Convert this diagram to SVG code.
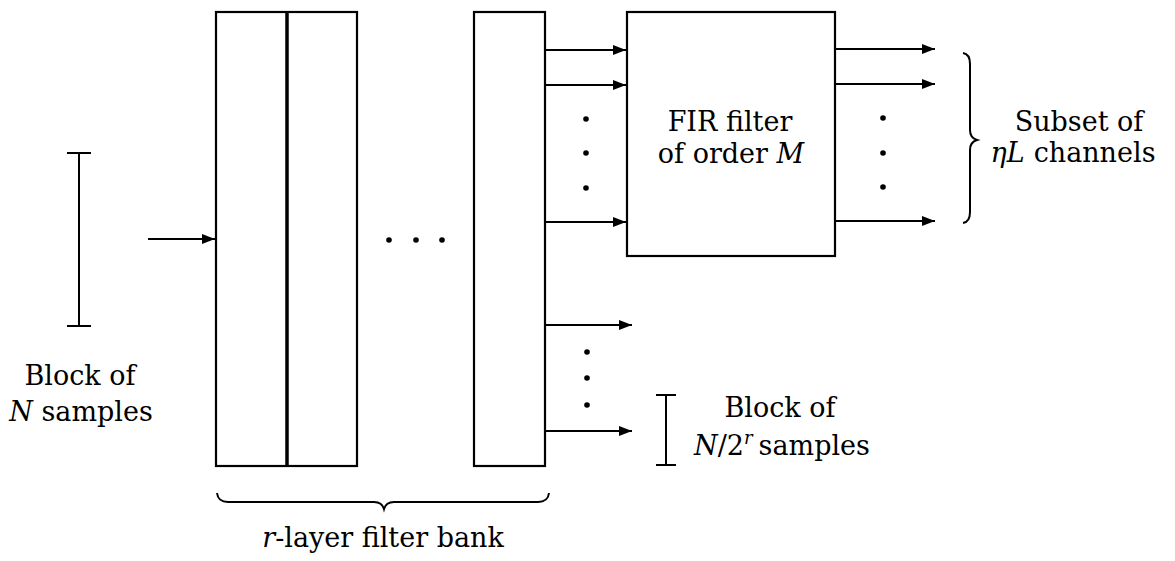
<svg xmlns="http://www.w3.org/2000/svg" width="1175" height="561" viewBox="0 0 1175 561">
<style>
.box{fill:none;stroke:#000;stroke-width:2.2}
.ln{fill:none;stroke:#000;stroke-width:2}
.br{fill:none;stroke:#000;stroke-width:2}
.t{font-family:'DejaVu Serif','Liberation Serif',serif;font-size:27px;fill:#000;text-anchor:middle}
.i{font-style:italic}
.dot{fill:#000}
</style>
<defs>
<marker id="ah" viewBox="0 0 13 10" refX="13" refY="5" markerWidth="13" markerHeight="10" markerUnits="userSpaceOnUse" orient="auto">
<path d="M0,0 L13,5 L0,10 z" fill="#000"/>
</marker>
</defs>
<rect width="1175" height="561" fill="#fff"/>

<g id="input-block">
<line class="ln" x1="79" y1="153" x2="79" y2="326"/>
<line class="ln" x1="67" y1="153" x2="91" y2="153"/>
<line class="ln" x1="67" y1="326" x2="91" y2="326"/>
<text class="t" x="80" y="385">Block of</text>
<text class="t" x="81" y="421"><tspan class="i">N</tspan> samples</text>
</g>

<g id="filter-bank">
<rect class="box" x="216" y="12" width="141" height="454"/>
<line x1="287" y1="12" x2="287" y2="466" stroke="#000" stroke-width="3.5"/>
<rect class="box" x="474" y="12" width="71" height="454"/>
<circle class="dot" cx="389" cy="240" r="2.8"/>
<circle class="dot" cx="416" cy="240" r="2.8"/>
<circle class="dot" cx="442" cy="240" r="2.8"/>
<path class="br" d="M217,493 Q218,502 228,502 L374,502 Q382,502 384,509 Q386,502 394,502 L538,502 Q548,502 549,493"/>
<text class="t" x="383" y="547"><tspan class="i">r</tspan>-layer filter bank</text>
</g>

<g id="fir-filter">
<rect class="box" x="627" y="12" width="208" height="244"/>
<text class="t" x="730" y="131">FIR filter</text>
<text class="t" x="731" y="163">of order <tspan class="i">M</tspan></text>
</g>

<g id="subset-label">
<path class="br" d="M963,53 Q970,54 970,64 L970,130 Q970,138 977,140 Q970,142 970,150 L970,212 Q970,222 963,223"/>
<text class="t" x="1079" y="131">Subset of</text>
<text class="t" x="1073" y="162"><tspan class="i">ηL</tspan><tspan dx="9">channels</tspan></text>
</g>

<g id="output-block">
<line class="ln" x1="666" y1="395" x2="666" y2="465"/>
<line class="ln" x1="656" y1="395" x2="676" y2="395"/>
<line class="ln" x1="656" y1="465" x2="676" y2="465"/>
<text class="t" x="780" y="417">Block of</text>
<text class="t" x="782" y="455"><tspan class="i">N</tspan>/2<tspan class="i" font-size="18" dy="-11">r</tspan><tspan dy="11" dx="6">samples</tspan></text>
</g>

<g id="connectors">
<line class="ln" x1="148" y1="239" x2="215" y2="239" marker-end="url(#ah)"/>
<line class="ln" x1="545" y1="50" x2="626" y2="50" marker-end="url(#ah)"/>
<line class="ln" x1="545" y1="85" x2="626" y2="85" marker-end="url(#ah)"/>
<line class="ln" x1="545" y1="222" x2="626" y2="222" marker-end="url(#ah)"/>
<circle class="dot" cx="586" cy="119" r="2.8"/>
<circle class="dot" cx="586" cy="153" r="2.8"/>
<circle class="dot" cx="586" cy="188" r="2.8"/>
<line class="ln" x1="545" y1="325" x2="632" y2="325" marker-end="url(#ah)"/>
<line class="ln" x1="545" y1="431" x2="632" y2="431" marker-end="url(#ah)"/>
<circle class="dot" cx="587" cy="352" r="2.8"/>
<circle class="dot" cx="587" cy="378" r="2.8"/>
<circle class="dot" cx="587" cy="405" r="2.8"/>
<line class="ln" x1="835" y1="49" x2="935" y2="49" marker-end="url(#ah)"/>
<line class="ln" x1="835" y1="84" x2="935" y2="84" marker-end="url(#ah)"/>
<line class="ln" x1="835" y1="221" x2="935" y2="221" marker-end="url(#ah)"/>
<circle class="dot" cx="883" cy="118" r="2.8"/>
<circle class="dot" cx="883" cy="153" r="2.8"/>
<circle class="dot" cx="883" cy="187" r="2.8"/>
</g>
</svg>
